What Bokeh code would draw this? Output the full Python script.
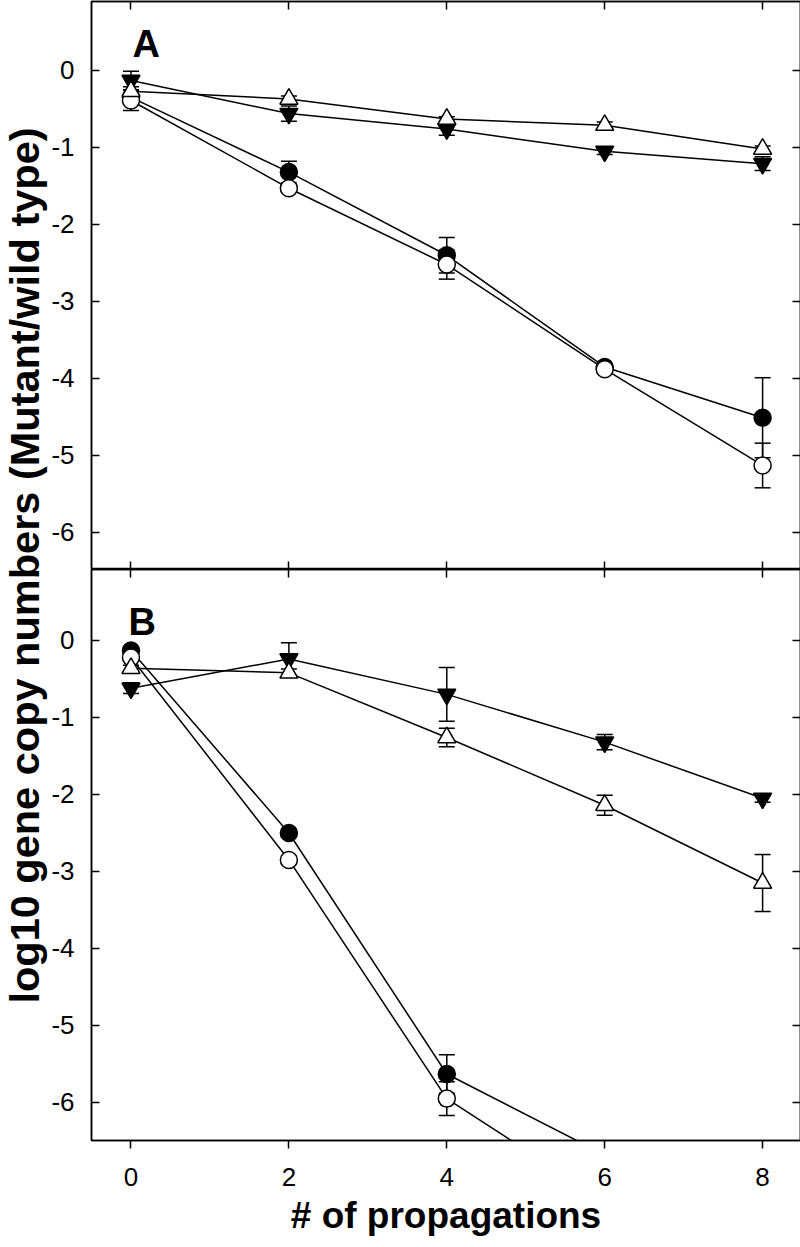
import numpy as np
from bokeh.plotting import figure
from bokeh.models import Range1d, LinearAxis, FixedTicker, Label, CustomJSTickFormatter
from bokeh.layouts import row, column
from bokeh.embed import file_html
from bokeh.resources import INLINE

# ---------------- data ----------------
propagations = [0, 2, 4, 6, 8]
x_ticks = [0, 2, 4, 6, 8]
y_ticks = [-6, -5, -4, -3, -2, -1, 0]

# Panel A
a_filled_circle = [-0.35, -1.32, -2.40, -3.85, -4.51]
a_filled_circle_err = [0.05, 0.14, 0.23, 0.03, 0.52]
a_open_circle = [-0.39, -1.53, -2.52, -3.88, -5.13]
a_open_circle_err = [0.13, 0.05, 0.19, 0.03, 0.29]
a_filled_tri = [-0.13, -0.56, -0.76, -1.05, -1.21]
a_filled_tri_err = [0.12, 0.10, 0.08, 0.04, 0.09]
a_open_tri = [-0.27, -0.37, -0.63, -0.71, -1.02]
a_open_tri_err = [0.06, 0.04, 0.03, 0.04, 0.04]

# Panel B
b_filled_circle = [-0.13, -2.50, -5.63, -6.68, -7.60]
b_filled_circle_err = [0.05, 0.05, 0.25, 0.0, 0.0]
b_open_circle = [-0.22, -2.85, -5.95, -7.28, -8.00]
b_open_circle_err = [0.05, 0.05, 0.22, 0.0, 0.0]
b_filled_tri = [-0.62, -0.24, -0.70, -1.32, -2.05]
b_filled_tri_err = [0.07, 0.21, 0.35, 0.10, 0.05]
b_open_tri = [-0.36, -0.42, -1.26, -2.14, -3.15]
b_open_tri_err = [0.04, 0.05, 0.12, 0.13, 0.37]

panel_letters = ["A", "B"]
x_label = "# of propagations"
y_label = "log10 gene copy numbers (Mutant/wild type)"

FONT = "Liberation Sans, Arial, Helvetica, sans-serif"
LW = 1.5


def add_axis(p, loc, ticks, labels, tick_in, tick_out, standoff=17):
    ax = LinearAxis(ticker=FixedTicker(ticks=ticks))
    ax.major_tick_in = tick_in
    ax.major_tick_out = tick_out
    ax.minor_tick_line_color = None
    ax.axis_line_width = LW
    ax.axis_line_color = "black"
    ax.major_tick_line_width = LW
    ax.major_tick_line_color = "black"
    if labels:
        ax.formatter = CustomJSTickFormatter(code="return tick.toFixed(0);")
        ax.major_label_text_font = FONT
        ax.major_label_text_font_size = "26px"
        ax.major_label_text_color = "black"
        ax.major_label_standoff = standoff
    else:
        ax.major_label_text_color = None
        ax.major_label_text_font_size = "0px"
        ax.major_label_standoff = 0
    p.add_layout(ax, loc)
    return ax


def make_panel(series, y_start, y_end, frame_h, top_border, bottom_labels,
               letter, letter_x, letter_y):
    p = figure(frame_width=709, frame_height=frame_h,
               x_range=Range1d(-0.5, 8.48), y_range=Range1d(y_start, y_end),
               output_backend="svg", toolbar_location=None,
               x_axis_location=None, y_axis_location=None,
               min_border_left=41, min_border_right=2,
               min_border_top=top_border, min_border_bottom=0)
    p.grid.visible = False
    p.outline_line_color = "black"
    p.outline_line_width = LW
    p.background_fill_color = "white"
    p.border_fill_color = "white"

    add_axis(p, "left", y_ticks, True, 8, 0, standoff=17)
    add_axis(p, "right", y_ticks, False, 8, 0)
    add_axis(p, "above", x_ticks, False, 8, 0)
    if bottom_labels:
        ax = add_axis(p, "below", x_ticks, True, 0, 8, standoff=19)
        ax.axis_label = x_label
        ax.axis_label_text_font = FONT
        ax.axis_label_text_font_style = "bold"
        ax.axis_label_text_font_size = "37px"
        ax.axis_label_text_color = "black"
        ax.axis_label_standoff = 6
    else:
        add_axis(p, "below", x_ticks, False, 8, 0)

    xs = np.array(propagations, dtype=float)
    # error bars
    for vals, errs, _, _ in series:
        v = np.array(vals); e = np.array(errs)
        lo = v - e; hi = v + e
        p.segment(x0=xs, y0=lo, x1=xs, y1=hi, line_color="black", line_width=LW)
        p.scatter(x=xs, y=hi, marker="dash", size=16, line_color="black", line_width=LW)
        p.scatter(x=xs, y=lo, marker="dash", size=16, line_color="black", line_width=LW)
    # connecting lines
    for vals, errs, _, _ in series:
        p.line(x=xs, y=vals, line_color="black", line_width=LW)
    # markers
    for vals, errs, marker, fill in series:
        size = 17 if marker == "circle" else 18
        p.scatter(x=xs, y=vals, marker=marker, size=size, fill_color=fill,
                  line_color="black", line_width=LW)

    p.add_layout(Label(x=letter_x, y=letter_y, text=letter, text_font=FONT,
                       text_font_style="bold", text_font_size="38px",
                       text_color="black", text_align="left",
                       text_baseline="alphabetic"))
    return p


series_a = [
    (a_filled_circle, a_filled_circle_err, "circle", "black"),
    (a_open_circle, a_open_circle_err, "circle", "white"),
    (a_filled_tri, a_filled_tri_err, "inverted_triangle", "black"),
    (a_open_tri, a_open_tri_err, "triangle", "white"),
]
series_b = [
    (b_filled_circle, b_filled_circle_err, "circle", "black"),
    (b_open_circle, b_open_circle_err, "circle", "white"),
    (b_filled_tri, b_filled_tri_err, "inverted_triangle", "black"),
    (b_open_tri, b_open_tri_err, "triangle", "white"),
]

pA = make_panel(series_a, -6.481, 0.896, 568, 1, False, panel_letters[0], 0.02, 0.35)
pB = make_panel(series_b, -6.494, 0.922, 571, 0, True, panel_letters[1], -0.03, 0.234)

TOTAL_H = 1246
LAB_W = 48
lab = figure(frame_width=LAB_W, frame_height=TOTAL_H,
             x_range=Range1d(0, LAB_W), y_range=Range1d(0, TOTAL_H),
             output_backend="svg", toolbar_location=None,
             x_axis_location=None, y_axis_location=None,
             min_border=0)
lab.grid.visible = False
lab.outline_line_color = None
lab.add_layout(Label(x=24, y=TOTAL_H - 565, text=y_label, angle=np.pi / 2,
                     text_font=FONT, text_font_style="bold", text_font_size="41.5px",
                     text_color="black", text_align="center",
                     text_baseline="middle"))

layout = row(lab, column(pA, pB))

open("out.html", "w").write(file_html(layout, INLINE))
